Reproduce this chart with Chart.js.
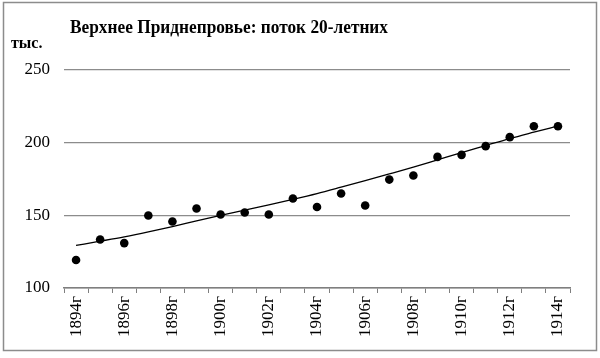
<!DOCTYPE html>
<html><head><meta charset="utf-8">
<script src="https://cdn.jsdelivr.net/npm/chart.js@4.4.1/dist/chart.umd.min.js"></script>
<style>html,body{margin:0;padding:0;background:#fff}#wrap{width:600px;height:358px;position:relative}</style>
</head><body><div id="wrap"><canvas id="c" width="600" height="358"></canvas></div>
<script>
const years = ['1894г','1895г','1896г','1897г','1898г','1899г','1900г','1901г','1902г','1903г','1904г','1905г','1906г','1907г','1908г','1909г','1910г','1911г','1912г','1913г','1914г'];
const flow = [119.3,133.4,130.9,149.9,145.8,154.7,150.6,152,150.6,161.6,155.7,165,156.8,174.6,177.4,190.2,191.6,197.6,203.8,211.3,211.3];
const trend = [129.3,132.2,135.2,138.6,142.3,146.2,150,153.6,157.2,161,165,169.4,173.9,178.5,183.2,188.2,193.2,198,202.8,207.2,211.5];
const yTicks = [100,150,200,250];
const titleText = 'Верхнее Приднепровье: поток 20-летних';
const unitText = 'тыс.';

const deco = {
  id:'deco',
  afterDraw(chart){
    const ctx = chart.ctx;
    ctx.save();
    ctx.strokeStyle = '#8c8c8c';
    ctx.lineWidth = 1.5;
    ctx.strokeRect(3.5,2.5,593,348);
    ctx.fillStyle = '#000';
    ctx.textBaseline = 'alphabetic';
    ctx.textAlign = 'left';
    ctx.font = 'bold 19px "Liberation Serif"';
    const w = ctx.measureText(titleText).width;
    ctx.save();
    ctx.translate(70,33);
    ctx.scale(318/w,1);
    ctx.fillText(titleText,0,0);
    ctx.restore();
    ctx.font = 'bold 16px "Liberation Serif"';
    ctx.fillText(unitText,11,48);
    ctx.restore();
  }
};

new Chart(document.getElementById('c'),{
  type:'line',
  data:{labels:years,datasets:[
    {data:trend,borderColor:'#000',borderWidth:1.3,pointRadius:0,tension:0.4,cubicInterpolationMode:'monotone',fill:false,order:2},
    {data:flow,showLine:false,pointRadius:4.3,pointBackgroundColor:'#000',pointBorderColor:'#000',pointBorderWidth:0,order:1}
  ]},
  options:{
    responsive:false,animation:false,
    layout:{padding:{top:70,right:30,left:0,bottom:0}},
    plugins:{legend:{display:false},tooltip:{enabled:false},title:{display:false}},
    scales:{
      x:{
        offset:true,
        grid:{offset:true,drawOnChartArea:false,drawTicks:true,tickLength:5,color:'#7f7f7f'},
        border:{display:true,color:'#7f7f7f',width:1.5},
        ticks:{autoSkip:false,maxRotation:90,minRotation:90,padding:3,color:'#000',
          font:{family:'"Liberation Serif"',size:17},
          callback:function(v,i){return i%2===0?this.getLabelForValue(v):'';}},
        afterFit(s){s.height=70;}
      },
      y:{
        min:100,max:250,
        afterBuildTicks(s){s.ticks=yTicks.map(v=>({value:v}));},
        grid:{color:'#8c8c8c',lineWidth:1.2,drawTicks:false},
        border:{display:false},
        ticks:{padding:14,color:'#000',font:{family:'"Liberation Serif"',size:17}},
        afterFit(s){s.width=64;}
      }
    }
  },
  plugins:[deco]
});
</script></body></html>
